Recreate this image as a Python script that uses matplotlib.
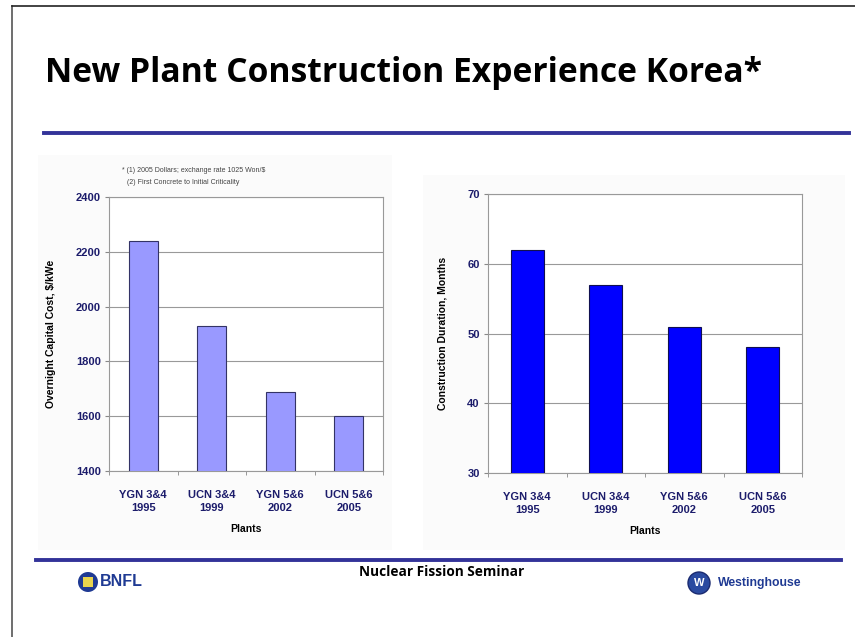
import matplotlib.pyplot as plt
from matplotlib.patches import Rectangle, Ellipse
from matplotlib.lines import Line2D

plants = ['YGN 3&4\n1995', 'UCN 3&4\n1999', 'YGN 5&6\n2002', 'UCN 5&6\n2005']
cost = [2240, 1930, 1690, 1600]
duration = [62, 57, 51, 48]

W, H = 855, 637
plt.rcParams['font.family'] = ['Liberation Sans', 'DejaVu Sans']

fig = plt.figure(figsize=(W / 100, H / 100), dpi=100)
fig.patch.set_facecolor('white')


def px_axes(x0, y0, x1, y1):
    # pixel box (top-left origin) -> figure fraction axes
    return fig.add_axes([x0 / W, 1 - y1 / H, (x1 - x0) / W, (y1 - y0) / H])


def fx(x):
    return x / W


def fy(y):
    return 1 - y / H


def disc(cx, cy, r, **kw):
    fig.add_artist(Ellipse((fx(cx), fy(cy)), 2 * r / W, 2 * r / H,
                           transform=fig.transFigure, **kw))


# slide frame and rules
fig.add_artist(Line2D([fx(12), fx(12)], [fy(6), fy(637)], color='#555555', lw=1.2))
fig.add_artist(Line2D([fx(12), fx(855)], [fy(6), fy(6)], color='#222222', lw=1.2))
fig.add_artist(Line2D([fx(44), fx(849)], [fy(133), fy(133)], color='#333399', lw=2.8))
fig.add_artist(Line2D([fx(36), fx(841)], [fy(560), fy(560)], color='#333399', lw=2.8))

# faint chart panels
fig.add_artist(Rectangle((fx(38), fy(550)), (392 - 38) / W, (550 - 155) / H,
                         facecolor='#fbfbfb', edgecolor='none', zorder=0))
fig.add_artist(Rectangle((fx(423), fy(550)), (845 - 423) / W, (550 - 175) / H,
                         facecolor='#fbfbfb', edgecolor='none', zorder=0))

fig.text(fx(45), fy(73), 'New Plant Construction Experience Korea*',
         fontsize=24.2, fontweight='bold', family=['Open Sans', 'DejaVu Sans'],
         va='center', ha='left', color='black')

fig.text(fx(122), fy(171), '* (1) 2005 Dollars; exchange rate 1025 Won/$',
         fontsize=5, color='#444444', va='center')
fig.text(fx(127), fy(183), '(2) First Concrete to Initial Criticality',
         fontsize=5, color='#444444', va='center')

fig.text(fx(442), fy(572), 'Nuclear Fission Seminar', fontsize=9.8,
         fontweight='bold', family=['Open Sans', 'DejaVu Sans'],
         ha='center', va='center')

# logos approximated
disc(88, 582, 10, facecolor='#1f3a93', edgecolor='none')
fig.add_artist(Rectangle((fx(83), fy(587)), 10 / W, 10 / H, facecolor='#e8d44d',
                         edgecolor='none'))
fig.text(fx(100), fy(582), 'BNFL', fontsize=11.5, fontweight='bold', color='#1f3a93',
         ha='left', va='center')
disc(699, 583, 11, facecolor='#2a4aa0', edgecolor='#1a2a70', lw=1)
fig.text(fx(699), fy(583), 'W', fontsize=8, fontweight='bold', color='white',
         ha='center', va='center')
fig.text(fx(718), fy(583), 'Westinghouse', fontsize=8.8, fontweight='bold',
         color='#1f3a93', ha='left', va='center')


def draw_chart(ax, values, color, edge, ylim, yticks, ylabel):
    x = range(len(values))
    ax.set_facecolor('white')
    ax.bar(x, values, width=0.42, color=color, edgecolor=edge, linewidth=0.8,
           zorder=3)
    ax.set_ylim(*ylim)
    ax.set_xlim(-0.5, len(values) - 0.5)
    ax.set_yticks(yticks)
    ax.set_yticklabels([str(t) for t in yticks], fontsize=8, fontweight='bold',
                       color='#1c1c6b')
    ax.set_xticks(list(x))
    ax.set_xticklabels(plants, fontsize=8, fontweight='bold', color='#1c1c6b',
                       linespacing=1.3)
    ax.set_xticks([i + 0.5 for i in range(-1, len(values))], minor=True)
    ax.tick_params(axis='x', which='major', length=0, pad=14)
    ax.tick_params(axis='x', which='minor', length=3, color='#888888')
    ax.tick_params(axis='y', length=3, color='#888888', pad=3)
    ax.yaxis.grid(True, color='#999999', lw=0.8, zorder=1)
    for s in ax.spines.values():
        s.set_color('#999999')
        s.set_linewidth(0.8)
    ax.set_xlabel('Plants', fontsize=7.5, fontweight='bold', labelpad=8)
    ax.set_ylabel(ylabel, fontsize=7.5, fontweight='bold', labelpad=14)


ax1 = px_axes(109, 197, 383, 471)
draw_chart(ax1, cost, '#9999ff', '#333366', (1400, 2400),
           [1400, 1600, 1800, 2000, 2200, 2400], 'Overnight Capital Cost, $/kWe')

ax2 = px_axes(488, 194, 802, 473)
draw_chart(ax2, duration, '#0000ff', '#101050', (30, 70),
           [30, 40, 50, 60, 70], 'Construction Duration, Months')

fig.savefig('out.png', dpi=100)
